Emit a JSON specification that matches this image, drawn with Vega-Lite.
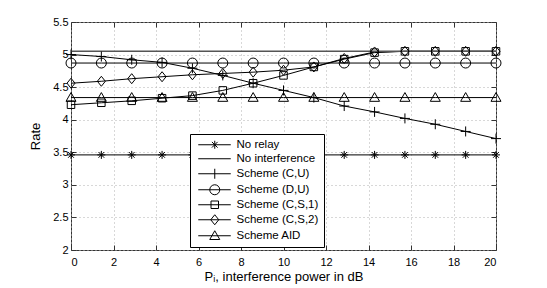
{
 "$schema": "https://vega.github.io/schema/vega-lite/v6.json",
 "width": 425, "height": 228,
 "autosize": "none",
 "padding": {"left": 71, "top": 22, "right": 51, "bottom": 38},
 "background": "white",
 "config": {
  "view": {"stroke": "#333", "strokeWidth": 1},
  "font": "Liberation Sans",
  "axis": {"domain": false, "tickColor": "#333", "tickSize": -5, "labelFont": "Liberation Sans", "labelFontSize": 11, "labelColor": "black", "titleFont": "Liberation Sans", "titleFontSize": 13, "titleFontWeight": "normal", "titleColor": "black", "gridColor": "#b0b0b0", "gridDash": [1, 3], "gridWidth": 1}
 },
 "datasets": {
  "rates": [
   {"series": "No relay", "x": 0, "y": 3.46}, {"series": "No relay", "x": 1.4286, "y": 3.46}, {"series": "No relay", "x": 2.8571, "y": 3.46}, {"series": "No relay", "x": 4.2857, "y": 3.46}, {"series": "No relay", "x": 5.7143, "y": 3.46}, {"series": "No relay", "x": 7.1429, "y": 3.46}, {"series": "No relay", "x": 8.5714, "y": 3.46}, {"series": "No relay", "x": 10, "y": 3.46}, {"series": "No relay", "x": 11.4286, "y": 3.46}, {"series": "No relay", "x": 12.8571, "y": 3.46}, {"series": "No relay", "x": 14.2857, "y": 3.46}, {"series": "No relay", "x": 15.7143, "y": 3.46}, {"series": "No relay", "x": 17.1429, "y": 3.46}, {"series": "No relay", "x": 18.5714, "y": 3.46}, {"series": "No relay", "x": 20, "y": 3.46},
   {"series": "No interference", "x": 0, "y": 5.05}, {"series": "No interference", "x": 20, "y": 5.05},
   {"series": "Scheme (C,U)", "x": 0, "y": 5.0}, {"series": "Scheme (C,U)", "x": 1.4286, "y": 4.97}, {"series": "Scheme (C,U)", "x": 2.8571, "y": 4.92}, {"series": "Scheme (C,U)", "x": 4.2857, "y": 4.88}, {"series": "Scheme (C,U)", "x": 5.7143, "y": 4.79}, {"series": "Scheme (C,U)", "x": 7.1429, "y": 4.68}, {"series": "Scheme (C,U)", "x": 8.5714, "y": 4.56}, {"series": "Scheme (C,U)", "x": 10, "y": 4.45}, {"series": "Scheme (C,U)", "x": 11.4286, "y": 4.34}, {"series": "Scheme (C,U)", "x": 12.8571, "y": 4.21}, {"series": "Scheme (C,U)", "x": 14.2857, "y": 4.12}, {"series": "Scheme (C,U)", "x": 15.7143, "y": 4.02}, {"series": "Scheme (C,U)", "x": 17.1429, "y": 3.93}, {"series": "Scheme (C,U)", "x": 18.5714, "y": 3.82}, {"series": "Scheme (C,U)", "x": 20, "y": 3.71},
   {"series": "Scheme (D,U)", "x": 0, "y": 4.87}, {"series": "Scheme (D,U)", "x": 1.4286, "y": 4.87}, {"series": "Scheme (D,U)", "x": 2.8571, "y": 4.87}, {"series": "Scheme (D,U)", "x": 4.2857, "y": 4.87}, {"series": "Scheme (D,U)", "x": 5.7143, "y": 4.87}, {"series": "Scheme (D,U)", "x": 7.1429, "y": 4.87}, {"series": "Scheme (D,U)", "x": 8.5714, "y": 4.87}, {"series": "Scheme (D,U)", "x": 10, "y": 4.87}, {"series": "Scheme (D,U)", "x": 11.4286, "y": 4.87}, {"series": "Scheme (D,U)", "x": 12.8571, "y": 4.87}, {"series": "Scheme (D,U)", "x": 14.2857, "y": 4.87}, {"series": "Scheme (D,U)", "x": 15.7143, "y": 4.87}, {"series": "Scheme (D,U)", "x": 17.1429, "y": 4.87}, {"series": "Scheme (D,U)", "x": 18.5714, "y": 4.87}, {"series": "Scheme (D,U)", "x": 20, "y": 4.87},
   {"series": "Scheme (C,S,1)", "x": 0, "y": 4.23}, {"series": "Scheme (C,S,1)", "x": 1.4286, "y": 4.26}, {"series": "Scheme (C,S,1)", "x": 2.8571, "y": 4.29}, {"series": "Scheme (C,S,1)", "x": 4.2857, "y": 4.33}, {"series": "Scheme (C,S,1)", "x": 5.7143, "y": 4.37}, {"series": "Scheme (C,S,1)", "x": 7.1429, "y": 4.45}, {"series": "Scheme (C,S,1)", "x": 8.5714, "y": 4.56}, {"series": "Scheme (C,S,1)", "x": 10, "y": 4.68}, {"series": "Scheme (C,S,1)", "x": 11.4286, "y": 4.81}, {"series": "Scheme (C,S,1)", "x": 12.8571, "y": 4.93}, {"series": "Scheme (C,S,1)", "x": 14.2857, "y": 5.03}, {"series": "Scheme (C,S,1)", "x": 15.7143, "y": 5.05}, {"series": "Scheme (C,S,1)", "x": 17.1429, "y": 5.05}, {"series": "Scheme (C,S,1)", "x": 18.5714, "y": 5.05}, {"series": "Scheme (C,S,1)", "x": 20, "y": 5.05},
   {"series": "Scheme (C,S,2)", "x": 0, "y": 4.56}, {"series": "Scheme (C,S,2)", "x": 1.4286, "y": 4.59}, {"series": "Scheme (C,S,2)", "x": 2.8571, "y": 4.63}, {"series": "Scheme (C,S,2)", "x": 4.2857, "y": 4.66}, {"series": "Scheme (C,S,2)", "x": 5.7143, "y": 4.69}, {"series": "Scheme (C,S,2)", "x": 7.1429, "y": 4.71}, {"series": "Scheme (C,S,2)", "x": 8.5714, "y": 4.73}, {"series": "Scheme (C,S,2)", "x": 10, "y": 4.76}, {"series": "Scheme (C,S,2)", "x": 11.4286, "y": 4.81}, {"series": "Scheme (C,S,2)", "x": 12.8571, "y": 4.94}, {"series": "Scheme (C,S,2)", "x": 14.2857, "y": 5.04}, {"series": "Scheme (C,S,2)", "x": 15.7143, "y": 5.05}, {"series": "Scheme (C,S,2)", "x": 17.1429, "y": 5.05}, {"series": "Scheme (C,S,2)", "x": 18.5714, "y": 5.05}, {"series": "Scheme (C,S,2)", "x": 20, "y": 5.05},
   {"series": "Scheme AID", "x": 0, "y": 4.34}, {"series": "Scheme AID", "x": 1.4286, "y": 4.34}, {"series": "Scheme AID", "x": 2.8571, "y": 4.34}, {"series": "Scheme AID", "x": 4.2857, "y": 4.34}, {"series": "Scheme AID", "x": 5.7143, "y": 4.34}, {"series": "Scheme AID", "x": 7.1429, "y": 4.34}, {"series": "Scheme AID", "x": 8.5714, "y": 4.34}, {"series": "Scheme AID", "x": 10, "y": 4.34}, {"series": "Scheme AID", "x": 11.4286, "y": 4.34}, {"series": "Scheme AID", "x": 12.8571, "y": 4.34}, {"series": "Scheme AID", "x": 14.2857, "y": 4.34}, {"series": "Scheme AID", "x": 15.7143, "y": 4.34}, {"series": "Scheme AID", "x": 17.1429, "y": 4.34}, {"series": "Scheme AID", "x": 18.5714, "y": 4.34}, {"series": "Scheme AID", "x": 20, "y": 4.34}
  ]
 },
 "data": {"name": "rates"},
 "layer": [
  {
   "transform": [{"filter": "datum.series !== 'No interference'"}],
   "mark": {"type": "line", "color": "black", "strokeWidth": 1},
   "encoding": {
    "x": {"field": "x", "type": "quantitative", "scale": {"domain": [0, 20], "nice": false}, "axis": {"orient": "bottom", "values": [0, 2, 4, 6, 8, 10, 12, 14, 16, 18, 20], "title": "Pᵢ, interference power in dB", "grid": true, "labelPadding": 11, "titlePadding": 3}},
    "y": {"field": "y", "type": "quantitative", "scale": {"domain": [2, 5.5], "nice": false, "zero": false}, "axis": {"orient": "left", "values": [2, 2.5, 3, 3.5, 4, 4.5, 5, 5.5], "format": "~g", "title": "Rate", "grid": true, "labelPadding": 8, "titlePadding": 10}},
    "detail": {"field": "series", "type": "nominal"}
   }
  },
  {
   "transform": [{"filter": "datum.series === 'No interference'"}],
   "mark": {"type": "line", "color": "#555", "strokeWidth": 1.5},
   "encoding": {
    "x": {"field": "x", "type": "quantitative", "axis": null},
    "y": {"field": "y", "type": "quantitative", "axis": null}
   }
  },
  {
   "transform": [{"filter": "datum.series !== 'No interference'"}],
   "mark": {"type": "point", "filled": false, "color": "black", "strokeWidth": 1, "size": 100, "opacity": 1},
   "encoding": {
    "x": {"field": "x", "type": "quantitative", "axis": null},
    "y": {"field": "y", "type": "quantitative", "axis": null},
    "shape": {"field": "series", "type": "nominal", "legend": null,
     "scale": {"domain": ["No relay", "Scheme (C,U)", "Scheme (D,U)", "Scheme (C,S,1)", "Scheme (C,S,2)", "Scheme AID"],
      "range": ["M-0.8,0H0.8M0,-0.8V0.8M-0.57,-0.57L0.57,0.57M-0.57,0.57L0.57,-0.57", "M-1,0H1M0,-1V1", "M-1,0A1,1 0 1,0 1,0A1,1 0 1,0 -1,0Z", "M-0.75,-0.75H0.75V0.75H-0.75Z", "M0,-1L0.8,0L0,1L-0.8,0Z", "M0,-1L1,0.75H-1Z"]}}
   }
  },
  {
   "mark": {"type": "point", "filled": false, "color": "black", "opacity": 0, "size": 100},
   "encoding": {
    "x": {"field": "x", "type": "quantitative", "axis": {"orient": "top", "values": [0, 2, 4, 6, 8, 10, 12, 14, 16, 18, 20], "labels": false, "title": null, "grid": false}},
    "y": {"field": "y", "type": "quantitative", "axis": {"orient": "right", "values": [2, 2.5, 3, 3.5, 4, 4.5, 5, 5.5], "labels": false, "title": null, "grid": false}},
    "shape": {"field": "series", "type": "nominal",
     "scale": {"domain": ["No relay", "No interference", "Scheme (C,U)", "Scheme (D,U)", "Scheme (C,S,1)", "Scheme (C,S,2)", "Scheme AID"],
      "range": ["M-0.5,0H6M2.8,-0.8V0.8M2.23,-0.57L3.37,0.57M2.23,0.57L3.37,-0.57", "M-0.5,0H6", "M-0.5,0H6M2.8,-1V1", "M-0.5,0H6M1.8,0A1,1 0 1,0 3.8,0A1,1 0 1,0 1.8,0Z", "M-0.5,0H6M2.05,-0.75H3.55V0.75H2.05Z", "M-0.5,0H6M2.8,-1L3.6,0L2.8,1L2,0Z", "M-0.5,0H6M2.8,-1L3.8,0.75H1.8Z"]},
     "legend": {"title": null, "orient": "none", "legendX": 119, "legendY": 112, "strokeColor": "black", "fillColor": "white", "padding": 5, "labelFont": "Liberation Sans", "labelFontSize": 11.5, "labelColor": "black", "labelOffset": 30, "rowPadding": 1, "symbolSize": 100, "symbolStrokeWidth": 1, "symbolStrokeColor": "black", "symbolFillColor": "transparent", "symbolOpacity": 1,
      "encode": {"symbols": {"update": {"opacity": {"value": 1}, "fill": {"value": "transparent"}, "stroke": {"signal": "datum.value === 'No interference' ? '#555' : 'black'"}, "strokeWidth": {"signal": "datum.value === 'No interference' ? 1.5 : 1"}}}}}
    }
   }
  }
 ],
 "resolve": {"scale": {"shape": "independent"}, "legend": {"shape": "independent"}, "axis": {"x": "independent", "y": "independent"}}
}
